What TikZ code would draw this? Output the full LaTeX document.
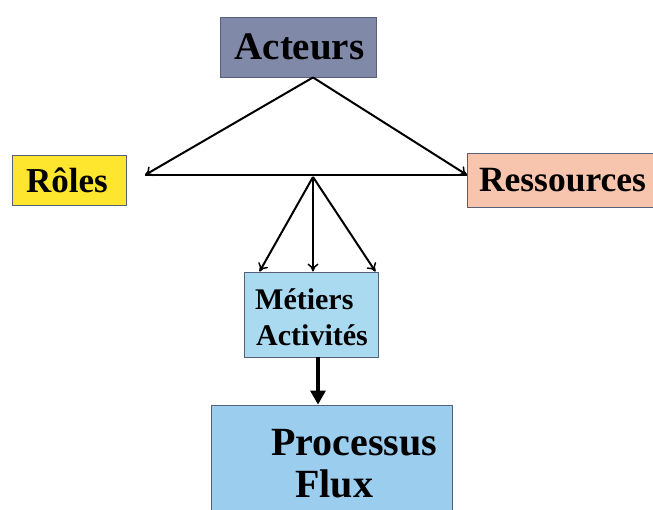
\documentclass[tikz,border=0pt]{standalone}
\usepackage{fontspec}
\setmainfont{Liberation Serif}
\usetikzlibrary{arrows.meta,calc}

\definecolor{acteursfill}{HTML}{8189A9}
\definecolor{rolesfill}{HTML}{FFE62E}
\definecolor{ressfill}{HTML}{F7C4AE}
\definecolor{metierfill}{HTML}{AADAF0}
\definecolor{procfill}{HTML}{9ACDEE}
\definecolor{edgecol}{HTML}{56607A}

\tikzset{
  box/.style={draw=edgecol, line width=0.9pt, inner sep=0pt},
  lbl/.style={inner sep=0pt, font=\bfseries},
  thin arrow/.style={line width=2pt, -{To[length=8pt,width=11pt,line width=1.5pt]}},
  thick arrow/.style={line width=3.2pt, -{Triangle[length=14pt,width=15pt]}},
}

\begin{document}
\begin{tikzpicture}[x=1pt,y=1pt]
  \useasboundingbox (0,0) rectangle (653,509);

  % boxes (pixel layout, y measured from the bottom)
  \node[box, fill=acteursfill, minimum width=156pt, minimum height=60pt] (acteurs) at (298,462) {};
  \node[lbl, font=\bfseries\fontsize{39}{39}\selectfont] (acteurstxt) at (299.5,462) {Acteurs};

  \node[box, fill=rolesfill, minimum width=114pt, minimum height=50pt] (roles) at (69,329) {};
  \node[lbl, font=\bfseries\fontsize{35}{35}\selectfont] (rolestxt) at (67,329) {Rôles};

  \node[box, fill=ressfill, minimum width=192pt, minimum height=54pt] (ress) at (563,329) {};
  \node[lbl, font=\bfseries\fontsize{35.5}{35.5}\selectfont] (resstxt) at (562.5,329) {Ressources};

  \node[box, fill=metierfill, minimum width=134pt, minimum height=85pt] (metiers) at (311,194.5) {};
  \node[lbl, font=\bfseries\fontsize{30}{35}\selectfont, anchor=base west] (metiertxt) at (255,199) {Métiers};
  \node[lbl, font=\bfseries\fontsize{30}{35}\selectfont, anchor=base west] (activtxt) at (256,164) {Activités};

  \node[box, fill=procfill, minimum width=241pt, minimum height=110pt] (proc) at (331.5,49) {};
  \node[lbl, font=\bfseries\fontsize{40}{40}\selectfont, anchor=base west] (proctxt) at (271,54) {Processus};
  \node[lbl, font=\bfseries\fontsize{40}{40}\selectfont, anchor=base west] (fluxtxt) at (295,12) {Flux};

  % connector points
  \coordinate (apex) at ($(acteurs.south)+(15,0)$);
  \coordinate (left) at (145,334);
  \coordinate (right) at (467,334);
  \coordinate (hub) at (313,332);

  % from Acteurs to Rôles and Ressources
  \draw[thin arrow] (apex) -- (left);
  \draw[thin arrow] (apex) -- (right);
  \draw[line width=2pt] (left) -- (right);

  % from the hub down to Métiers
  \draw[thin arrow] (hub) -- ($(metiers.north west)+(16,0)$);
  \draw[thin arrow] (hub) -- ($(metiers.north)+(2,0)$);
  \draw[thin arrow] (hub) -- ($(metiers.north east)+(-3,0)$);

  % Métiers to Processus
  \draw[thick arrow] ($(metiers.south)+(7,0)$) -- ($(proc.north)+(-13.5,0)$);
\end{tikzpicture}
\end{document}
